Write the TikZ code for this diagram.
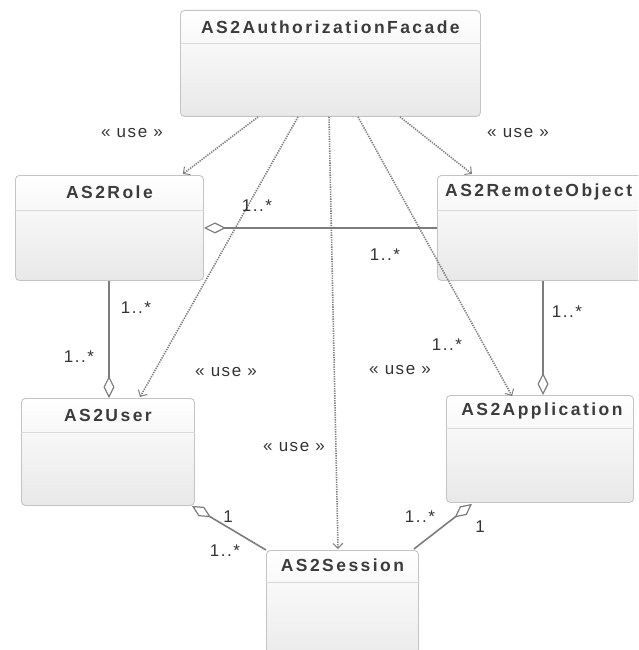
\documentclass[tikz,border=0pt]{standalone}
\usepackage{fontspec}
\setmainfont{Liberation Sans}
\newfontfamily\ttlfont[LetterSpace=14]{Liberation Sans}
\newfontfamily\labfont[LetterSpace=9]{Liberation Sans}
\usetikzlibrary{arrows.meta,calc}
\definecolor{bordc}{HTML}{C4C4C4}
\definecolor{ttlc}{HTML}{3C3C3C}
\definecolor{usec}{HTML}{7E7E7E}
\definecolor{aggc}{HTML}{7C7C7C}
\begin{document}
\begin{tikzpicture}[x=1pt,y=-1pt,
  cls/.style={draw=bordc, line width=0.9pt, rounded corners=4pt, top color=white, bottom color=gray!18, anchor=north west, inner sep=0pt},
  ttl/.style={font=\ttlfont\bfseries\fontsize{17.5}{20}\selectfont, text=ttlc, inner sep=0pt},
  sep/.style={draw=gray!30, line width=0.9pt},
  usearr/.style={draw=usec, line width=1.6pt, dash pattern=on 1.3pt off 1.1pt, -{Straight Barb[length=5pt,width=10pt,line width=1pt]}},
  agg/.style={draw=aggc, line width=1.6pt, {Diamond[open,length=22pt,width=11pt,line width=1.2pt,fill=white]}-},
  lbl/.style={font=\labfont\fontsize{17}{19}\selectfont, text=black!80, inner sep=0pt}]
\path[use as bounding box] (0,0) rectangle (638,650);
\clip (0,0) rectangle (638,650);

% classes
\node[cls, minimum width=300pt, minimum height=106pt] (fac) at (180,10) {};
\node[cls, minimum width=188pt, minimum height=105pt] (role) at (15,175) {};
\node[cls, minimum width=240pt, minimum height=105pt] (rem) at (437,175) {};
\node[cls, minimum width=173pt, minimum height=107pt] (user) at (21,398) {};
\node[cls, minimum width=187pt, minimum height=107pt] (app) at (446,395) {};
\node[cls, minimum width=152pt, minimum height=120pt] (ses) at (266,550) {};

\draw[sep] ($(fac.north west)+(0,33)$) -- ($(fac.north east)+(0,33)$);
\draw[sep] ($(role.north west)+(0,35)$) -- ($(role.north east)+(0,35)$);
\draw[sep] ($(rem.north west)+(0,35)$) -- ($(rem.north east)+(0,35)$);
\draw[sep] ($(user.north west)+(0,34)$) -- ($(user.north east)+(0,34)$);
\draw[sep] ($(app.north west)+(0,33)$) -- ($(app.north east)+(0,33)$);
\draw[sep] ($(ses.north west)+(0,32)$) -- ($(ses.north east)+(0,32)$);

\node[ttl] (facT) at ($(fac.north)+(0,17)$) {AS2AuthorizationFacade};
\node[ttl] (roleT) at ($(role.north)+(0,17)$) {AS2Role};
\node[ttl, anchor=west] (remT) at ($(rem.north west)+(8,17)$) {AS2RemoteObject};
\node[ttl] (userT) at ($(user.north)+(0,17)$) {AS2User};
\node[ttl] (appT) at ($(app.north)+(2,16)$) {AS2Application};
\node[ttl] (sesT) at ($(ses.north)+(0,15)$) {AS2Session};

% use dependencies
\draw[usearr] ($(fac.south west)+(78,0)$) -- ($(role.north east)+(-21,-1)$);
\draw[usearr] ($(fac.south west)+(118,0)$) -- ($(user.north west)+(119,-1)$);
\draw[usearr] ($(fac.south west)+(149,0)$) -- ($(ses.north west)+(72,-1)$);
\draw[usearr] ($(fac.south west)+(178,0)$) -- ($(app.north west)+(66,1)$);
\draw[usearr] ($(fac.south west)+(220,0)$) -- ($(rem.north west)+(35,-1)$);

% aggregations
\draw[agg] (role.east) -- (rem.west);
\draw[agg] ($(user.north west)+(88,0)$) -- ($(role.south west)+(94,0)$);
\draw[agg] ($(app.north west)+(97,0)$) -- ($(rem.south west)+(106,0)$);
\draw[agg] ($(user.south east)+(-3,0)$) -- (ses.north west);
\draw[agg] ($(app.south west)+(26,1)$) -- ($(ses.north east)+(-5,-1)$);

% labels
\node[lbl] (u1) at (132,133) {« use »};
\node[lbl] (u2) at (518,133) {« use »};
\node[lbl] (u3) at (226,372) {« use »};
\node[lbl] (u4) at (400,370) {« use »};
\node[lbl] (u5) at (294,447) {« use »};

\node[lbl] (m1) at (257,206) {1..*};
\node[lbl] (m2) at (385,255) {1..*};
\node[lbl] (m3) at (136,308) {1..*};
\node[lbl] (m4) at (79,357) {1..*};
\node[lbl] (m5) at (567,312) {1..*};
\node[lbl] (m6) at (447,345) {1..*};
\node[lbl] (m7) at (228,517) {1};
\node[lbl] (m8) at (225,551) {1..*};
\node[lbl] (m9) at (420,517) {1..*};
\node[lbl] (m10) at (480,527) {1};
\end{tikzpicture}
\end{document}
